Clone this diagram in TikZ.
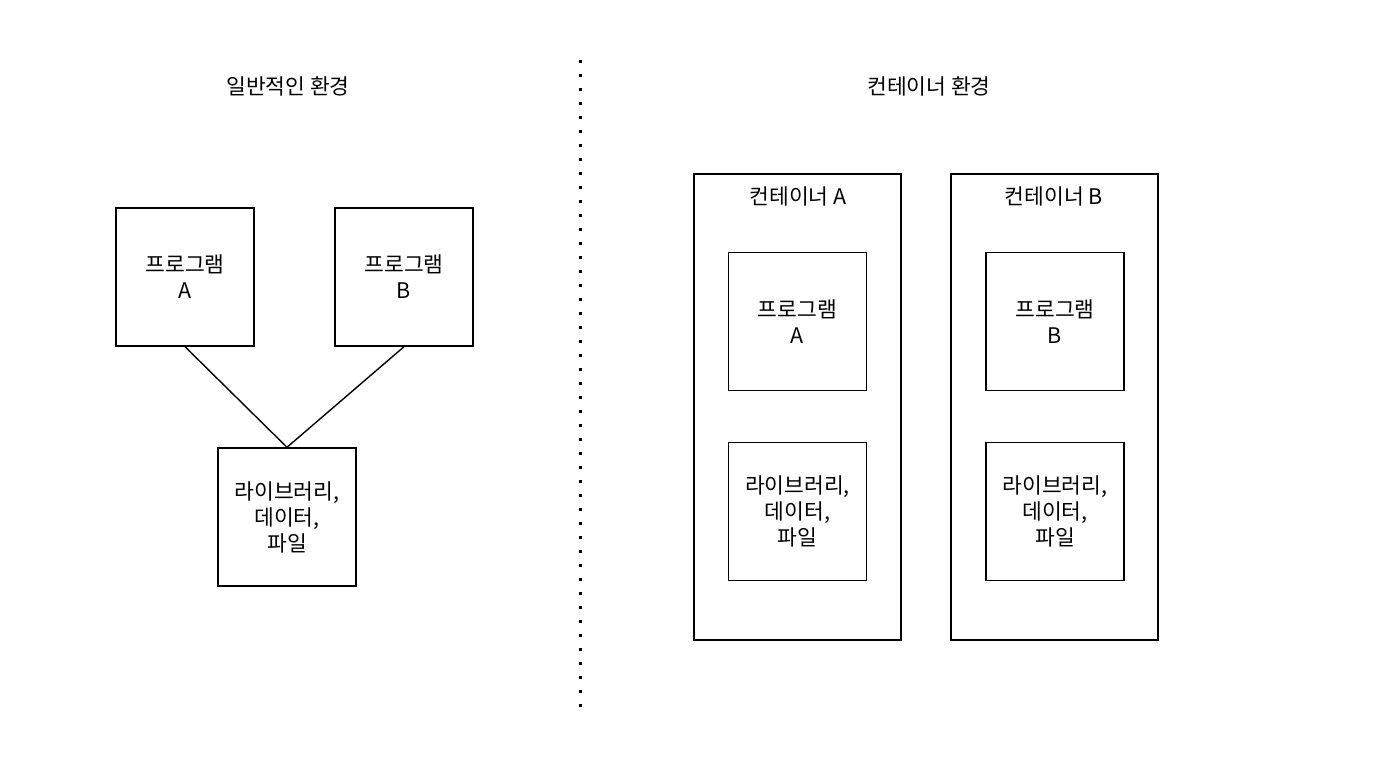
\documentclass[tikz,border=0pt]{standalone}
\usepackage{fontspec}
\setmainfont{Noto Sans CJK KR}
\begin{document}
\begin{tikzpicture}[x=1pt,y=-1pt,
  box/.style={draw,line width=1.4pt,minimum width=138pt,minimum height=138pt,inner sep=0pt,align=center,font=\fontsize{21.5}{26}\selectfont},
  cont/.style={draw,line width=1.4pt,minimum width=207pt,minimum height=466pt,inner sep=0pt},
  lbl/.style={font=\fontsize{21.5}{26}\selectfont,inner sep=0pt}]
\useasboundingbox (0,0) rectangle (1377,756);
% left
\node[lbl] (t1) at (288,86) {일반적인 환경};
\node[box] (pa) at (185,277) {프로그램\\A};
\node[box] (pb) at (404,277) {프로그램\\B};
\node[box] (lib) at (287,517) {라이브러리,\\데이터,\\파일};
\draw[line width=1.4pt] (pa.south) -- (lib.north);
\draw[line width=1.4pt] (pb.south) -- (lib.north);
% divider
\coordinate (d1) at (580,60);
\coordinate (d2) at (580,714);
\draw[line width=3pt,dash pattern=on 3pt off 11pt] (d1) -- (d2);
% right
\node[lbl] (t2) at (929,86) {컨테이너 환경};
\node[cont] (ca) at (797.5,407) {};
\node[cont] (cb) at (1054.5,407) {};
\node[lbl] (cal) at (798,196) {컨테이너 A};
\node[lbl] (cbl) at (1054,196) {컨테이너 B};
\node[box] (pa2) at (797.5,321.5) {프로그램\\A};
\node[box] (lib2) at (797.5,511.5) {라이브러리,\\데이터,\\파일};
\node[box] (pb2) at (1055,321.5) {프로그램\\B};
\node[box] (lib3) at (1055,511.5) {라이브러리,\\데이터,\\파일};
\end{tikzpicture}
\end{document}
